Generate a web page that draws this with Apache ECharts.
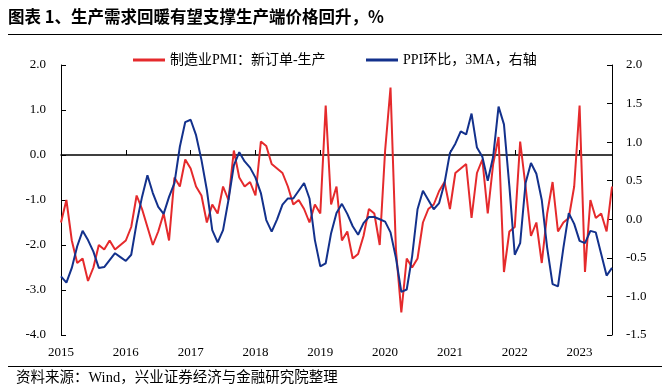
<!DOCTYPE html>
<html><head><meta charset="utf-8">
<script src="https://cdn.jsdelivr.net/npm/echarts@6/dist/echarts.min.js"></script>
<style>html,body{margin:0;padding:0;background:#fff}#c{width:669px;height:392px}</style>
</head><body><div id="c"></div>
<script>
// Months 2015-01 .. 2023-07
const startYear = 2015, monthCount = 103;
const months = [];
for (let i = 0; i < monthCount; i++) {
  const y = startYear + Math.floor(i / 12), m = i % 12 + 1;
  months.push(y + '-' + (m < 10 ? '0' + m : m));
}
// 制造业PMI：新订单-生产 (left axis)
const pmiGap = [
 -1.5,-1.0,-1.9,-2.4,-2.3,-2.8,-2.5,-2.0,-2.1,-1.9,-2.1,-2.0,
 -1.9,-1.6,-0.9,-1.2,-1.6,-2.0,-1.7,-1.3,-1.9,-0.5,-0.7,-0.1,
 -0.3,-0.7,-0.9,-1.5,-1.1,-1.3,-0.7,-1.0,0.1,-0.5,-0.7,-0.6,
 -0.9,0.3,0.2,-0.2,-0.3,-0.4,-0.7,-1.1,-1.0,-1.2,-1.5,-1.1,
 -1.3,1.1,-1.1,-0.7,-1.9,-1.7,-2.3,-2.2,-1.8,-1.2,-1.3,-2.0,
 0.1,1.5,-2.1,-3.5,-2.3,-2.5,-2.3,-1.5,-1.2,-1.1,-0.8,-0.6,
 -1.2,-0.4,-0.3,-0.2,-1.4,-0.4,-0.1,-1.3,-0.2,0.4,-2.6,-1.7,
 -1.6,0.3,-0.7,-1.8,-1.5,-2.4,-1.3,-0.6,-1.7,-1.5,-1.4,-0.7,
 1.1,-2.6,-1.0,-1.4,-1.3,-1.7,-0.7
];
// PPI环比，3MA (right axis)
const ppiMom3ma = [
 -0.74,-0.82,-0.63,-0.35,-0.15,-0.27,-0.42,-0.63,-0.62,-0.53,-0.44,-0.49,
 -0.54,-0.46,-0.05,0.29,0.57,0.34,0.16,0.07,0.29,0.47,0.94,1.26,
 1.29,1.09,0.77,0.38,-0.14,-0.30,-0.14,0.25,0.70,0.87,0.75,0.67,
 0.54,0.34,-0.01,-0.16,0.0,0.19,0.27,0.27,0.37,0.47,0.27,-0.27,
 -0.61,-0.57,-0.18,0.08,0.20,0.07,-0.09,-0.20,-0.05,0.03,0.03,0.0,
 -0.03,-0.17,-0.50,-0.94,-0.91,-0.48,0.13,0.37,0.25,0.13,0.21,0.47,
 0.86,0.98,1.14,1.10,1.37,0.93,0.81,0.50,0.81,1.46,1.23,0.43,
 -0.46,-0.31,0.47,0.73,0.59,0.25,-0.37,-0.84,-0.87,-0.37,0.08,-0.06,
 -0.28,-0.31,-0.15,-0.17,-0.45,-0.73,-0.63
];
const seriesNames = ['制造业PMI：新订单-生产', 'PPI环比，3MA，右轴'];
const titleText = '图表 1、生产需求回暖有望支撑生产端价格回升，%';
const sourceText = '资料来源：Wind，兴业证券经济与金融研究院整理';

const serif = '"Liberation Serif","Noto Sans CJK SC",serif';
const chart = echarts.init(document.getElementById('c'), null, {renderer: 'canvas'});
const isJan = (idx) => idx % 12 === 0;
const legendText = {fontFamily: serif, fontSize: 14, color: '#000'};
chart.setOption({
  animation: false,
  backgroundColor: '#fff',
  grid: {left: 61, right: 57, top: 65, bottom: 57},
  legend: [
    {left: 128, top: 48, itemWidth: 32, itemHeight: 3, textStyle: legendText,
     data: [{name: seriesNames[0], icon: 'rect'}]},
    {left: 361, top: 48, itemWidth: 32, itemHeight: 3, textStyle: legendText,
     data: [{name: seriesNames[1], icon: 'rect'}]}
  ],
  graphic: [
    {type: 'text', left: 8, top: 8, style: {text: titleText, font: 'bold 16.5px "Noto Sans CJK SC"', fill: '#000'}},
    {type: 'line', shape: {x1: 8, y1: 34.5, x2: 662, y2: 34.5}, style: {stroke: '#000', lineWidth: 1}},
    {type: 'line', shape: {x1: 8, y1: 366.5, x2: 662, y2: 366.5}, style: {stroke: '#000', lineWidth: 1}},
    {type: 'text', left: 16, top: 371, style: {text: sourceText, font: '14.5px ' + serif, fill: '#000'}}
  ],
  xAxis: [
    {
      type: 'category', data: months, boundaryGap: false,
      axisLine: {onZero: true, onZeroAxisIndex: 0, lineStyle: {color: '#000', width: 1.5}},
      axisTick: {show: true, inside: true, length: 5, interval: isJan, lineStyle: {color: '#000'}},
      axisLabel: {show: false}, splitLine: {show: false}
    },
    {
      type: 'category', data: months, boundaryGap: false, position: 'bottom',
      axisLine: {show: false, onZero: false}, axisTick: {show: false},
      axisLabel: {show: true, interval: isJan, margin: 11, formatter: v => v.slice(0, 4),
        fontFamily: serif, fontSize: 13, color: '#000'},
      splitLine: {show: false}
    }
  ],
  yAxis: [
    {
      type: 'value', min: -4, max: 2, interval: 1, position: 'left',
      axisLine: {show: true, lineStyle: {color: '#000'}},
      axisTick: {show: true, inside: true, length: 5, lineStyle: {color: '#000'}},
      axisLabel: {formatter: v => v.toFixed(1), margin: 15, fontFamily: serif, fontSize: 13, color: '#000'},
      splitLine: {show: false}
    },
    {
      type: 'value', min: -1.5, max: 2, interval: 0.5, position: 'right',
      axisLine: {show: true, lineStyle: {color: '#000'}},
      axisTick: {show: true, inside: true, length: 5, lineStyle: {color: '#000'}},
      axisLabel: {formatter: v => v.toFixed(1), margin: 14, fontFamily: serif, fontSize: 13, color: '#000'},
      splitLine: {show: false}
    }
  ],
  series: [
    {name: seriesNames[0], type: 'line', xAxisIndex: 0, yAxisIndex: 0, data: pmiGap,
     symbol: 'none', lineStyle: {color: '#E52A2C', width: 2}, itemStyle: {color: '#E52A2C'}},
    {name: seriesNames[1], type: 'line', xAxisIndex: 0, yAxisIndex: 1, data: ppiMom3ma,
     symbol: 'none', lineStyle: {color: '#13318C', width: 2}, itemStyle: {color: '#13318C'}}
  ]
});
</script></body></html>
